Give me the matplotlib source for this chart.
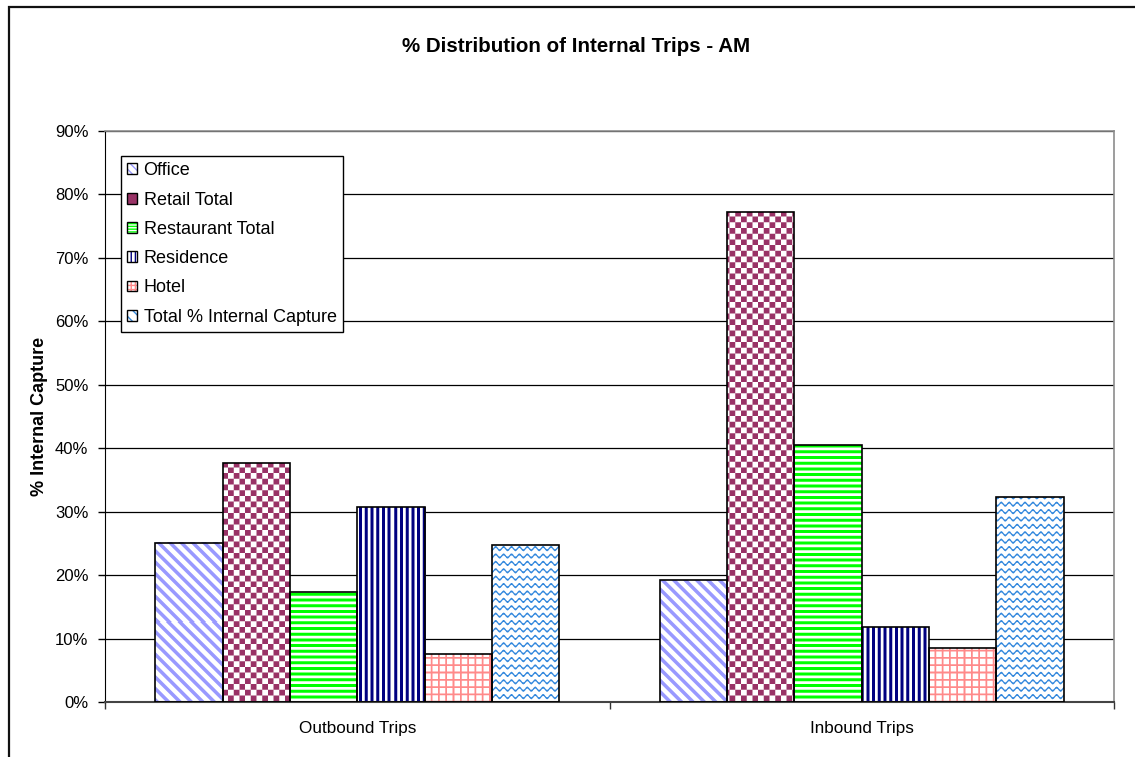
import numpy as np
import matplotlib
matplotlib.use("Agg")
import matplotlib.pyplot as plt
from matplotlib.patches import Patch, Rectangle
from matplotlib.ticker import FuncFormatter, FixedLocator

plt.rcParams['font.family'] = ['Liberation Sans', 'DejaVu Sans']

# ---- data -------------------------------------------------------------
title = "% Distribution of Internal Trips - AM"
ylabel = "% Internal Capture"
categories = ["Outbound Trips", "Inbound Trips"]
series_names = ["Office", "Retail Total", "Restaurant Total", "Residence",
                "Hotel", "Total % Internal Capture"]
office = [0.251, 0.193]
retail = [0.377, 0.773]
restaurant = [0.173, 0.405]
residence = [0.308, 0.118]
hotel = [0.076, 0.085]
total_capture = [0.248, 0.323]
series_values = [office, retail, restaurant, residence, hotel, total_capture]
yticks = [0, 0.1, 0.2, 0.3, 0.4, 0.5, 0.6, 0.7, 0.8, 0.9]

# ---- fill patterns (pixel based, like spreadsheet pattern fills) -------
pattern_colors = ["#9999FF", "#993366", "#00FF00", "#000080", "#FF8A8A", "#3388DD"]


def pattern_mask(kind, X, Y):
    if kind == 0:   # wide downward diagonal
        return ((X - Y) % 11.4) < 5.0
    if kind == 1:   # large checkerboard
        return ((np.floor(X / 5.7) + np.floor(Y / 5.7)) % 2) == 0
    if kind == 2:   # horizontal stripes
        return (Y % 5.7) < 3.0
    if kind == 3:   # vertical stripes
        return (X % 5.7) < 3.0
    if kind == 4:   # small grid
        return ((X % 7.3) < 1.8) | ((Y % 7.3) < 1.8)
    # wave
    Yw = Y - 1.6 * np.sin(2 * np.pi * X / 7.9)
    return (Yw % 7.4) < 2.0


def pattern_image(kind, color, xs, ys, ss=4):
    off = (np.arange(ss) + 0.5) / ss - 0.5
    acc = np.zeros((len(ys), len(xs)))
    for dy in off:
        for dx in off:
            X, Y = np.meshgrid(xs + dx, ys + dy)
            acc += pattern_mask(kind, X, Y)
    acc /= ss * ss
    rgb = np.array(matplotlib.colors.to_rgb(color))
    img = 1.0 - acc[..., None] * (1.0 - rgb[None, None, :])
    return img


# ---- figure ------------------------------------------------------------
W, H = 1135, 757
fig = plt.figure(figsize=(W / 100, H / 100), dpi=100)
fig.patch.set_facecolor("white")

# outer chart border (left and top visible)
fig.add_artist(Rectangle((8.5 / W, -0.05), 1.2, 1 - 6.5 / H + 0.05,
                         transform=fig.transFigure, fill=False,
                         edgecolor="#111111", lw=1.6, zorder=0))

ax = fig.add_axes([105 / W, 1 - 702 / H, (1114 - 105) / W, (702 - 131) / H])
ax.set_xlim(-0.5, len(categories) - 0.5)
ax.set_ylim(0, 0.9)

n = len(series_names)
bw = 1.0 / 7.5
x = np.arange(len(categories))

all_bars = []
for i, vals in enumerate(series_values):
    pos = x - 3 * bw + (i + 0.5) * bw
    bars = ax.bar(pos, vals, width=bw, facecolor="none", edgecolor="black",
                  lw=1.2, zorder=3)
    all_bars.append((i, bars))

# pattern fills, built from each bar's own geometry on whole pixels
inv = ax.transData.inverted()
for i, bars in all_bars:
    for b in bars:
        x0, x1 = b.get_x(), b.get_x() + b.get_width()
        h = b.get_height()
        (px0, py0) = ax.transData.transform((x0, 0))
        (px1, py1) = ax.transData.transform((x1, h))
        l, r = int(round(px0)), int(round(px1))
        bot, top = int(round(py0)), int(round(py1))
        xs = np.arange(l, r) + 0.5
        ys = np.arange(H - top, H - bot) + 0.5
        img = pattern_image(i, pattern_colors[i], xs, ys)
        (dx0, dy0) = inv.transform((l, bot))
        (dx1, dy1) = inv.transform((r, top))
        ax.imshow(img, extent=(dx0, dx1, dy0, dy1), origin="upper",
                  aspect="auto", interpolation="nearest", zorder=2)

ax.set_xlim(-0.5, len(categories) - 0.5)
ax.set_ylim(0, 0.9)

# grid & axes styling
ax.set_yticks(yticks)
ax.yaxis.set_major_formatter(FuncFormatter(lambda v, p: f"{v * 100:.0f}%"))
ax.yaxis.grid(True, color="black", lw=0.9)
ax.set_axisbelow(True)
ax.tick_params(axis="y", length=5, width=1, pad=7, labelsize=12, colors="black")

ax.set_xticks(x)
ax.set_xticklabels(categories)
ax.xaxis.set_minor_locator(FixedLocator([-0.5, 0.5, 1.5]))
ax.tick_params(axis="x", which="major", length=0, pad=14, labelsize=12.3)
ax.tick_params(axis="x", which="minor", length=5, width=1, color="#333333")

for side in ("top", "right"):
    ax.spines[side].set_color("#8c8c8c")
    ax.spines[side].set_linewidth(1.2)
ax.spines["left"].set_color("black")
ax.spines["bottom"].set_color("#444444")
ax.spines["bottom"].set_linewidth(1.5)

ax.set_ylabel(ylabel, fontsize=13, fontweight="bold", labelpad=5)
fig.text(576 / W, 1 - 46 / H, title, ha="center", va="center",
         fontsize=14.8, fontweight="bold")

# legend
legend_hatches = ["\\\\\\\\", None, "------", "||||", "++++", "\\\\\\"]
legend_faces = ["white", "#993366", "white", "white", "white", "white"]
handles = []
for i in range(n):
    fill = Patch(facecolor=legend_faces[i], edgecolor=pattern_colors[i],
                 hatch=legend_hatches[i], lw=0)
    edge = Patch(facecolor="none", edgecolor="black", lw=1.0)
    handles.append((fill, edge))
leg = fig.legend(handles, series_names, loc="upper left",
                 bbox_to_anchor=(121 / W, 1 - 156 / H),
                 bbox_transform=fig.transFigure, borderaxespad=0,
                 fontsize=13, frameon=True, fancybox=False,
                 edgecolor="black", framealpha=1, handlelength=0.55,
                 handleheight=0.55, handletextpad=0.35, labelspacing=0.68,
                 borderpad=0.35)
leg.get_frame().set_linewidth(1.0)

fig.savefig("out.png", dpi=100)
